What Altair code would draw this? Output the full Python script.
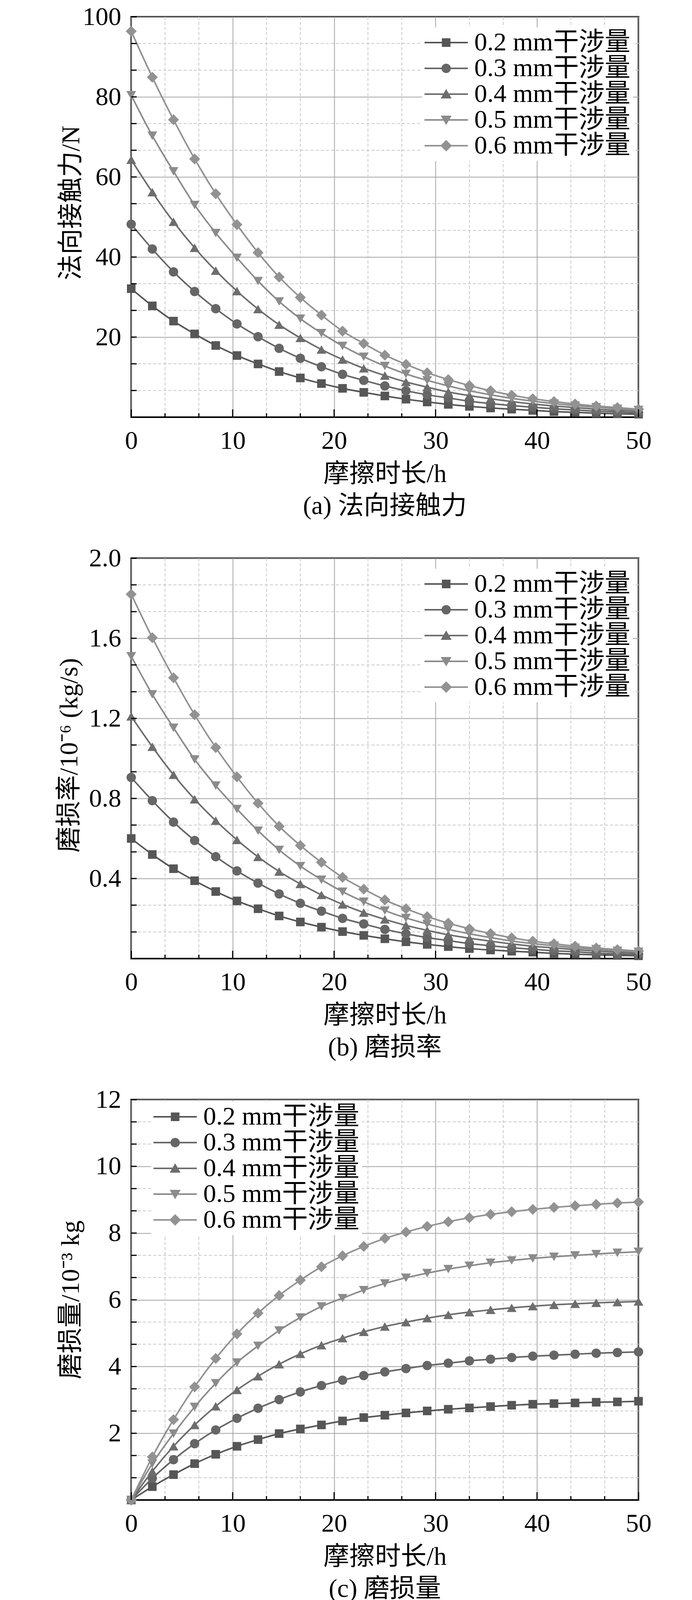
import altair as alt
import pandas as pd

# ---------------- data ----------------
T_H = [0, 2.08, 4.17, 6.25, 8.33, 10.42, 12.5, 14.58, 16.67, 18.75, 20.83, 22.92, 25,
       27.08, 29.17, 31.25, 33.33, 35.42, 37.5, 39.58, 41.67, 43.75, 45.83, 47.92, 50]

SERIES = ["0.2 mm干涉量", "0.3 mm干涉量", "0.4 mm干涉量", "0.5 mm干涉量", "0.6 mm干涉量"]

# (a) normal contact force / N
A02 = [32.1, 27.8, 24.0, 20.8, 17.9, 15.4, 13.3, 11.4, 9.8, 8.4, 7.2, 6.2, 5.3, 4.5, 3.8, 3.2, 2.7, 2.3, 2.0, 1.7, 1.4, 1.2, 1.0, 0.85, 0.75]
A03 = [48.2, 42.0, 36.3, 31.4, 27.1, 23.3, 20.1, 17.2, 14.7, 12.6, 10.7, 9.2, 7.8, 6.6, 5.6, 4.8, 4.0, 3.4, 2.9, 2.5, 2.1, 1.8, 1.5, 1.3, 1.1]
A04 = [64.3, 56.2, 48.8, 42.3, 36.6, 31.5, 27.0, 23.1, 19.8, 16.9, 14.4, 12.2, 10.4, 8.8, 7.5, 6.3, 5.4, 4.6, 3.9, 3.3, 2.8, 2.4, 2.0, 1.7, 1.5]
A05 = [80.4, 70.3, 61.4, 53.0, 46.0, 39.8, 34.0, 28.9, 24.6, 21.0, 17.8, 15.1, 12.8, 10.8, 9.2, 7.8, 6.6, 5.6, 4.7, 4.0, 3.4, 2.9, 2.5, 2.1, 1.8]
A06 = [96.4, 84.9, 74.3, 64.5, 55.8, 48.1, 41.1, 35.0, 29.9, 25.5, 21.5, 18.4, 15.5, 13.2, 11.1, 9.4, 7.9, 6.6, 5.5, 4.6, 3.9, 3.3, 2.8, 2.4, 2.0]

# (b) wear rate / 1e-6 kg/s
B02 = [0.600, 0.520, 0.449, 0.389, 0.335, 0.288, 0.249, 0.213, 0.183, 0.157, 0.135, 0.116, 0.099, 0.084, 0.071, 0.060, 0.050, 0.043, 0.037, 0.032, 0.026, 0.022, 0.019, 0.016, 0.014]
B03 = [0.905, 0.789, 0.682, 0.590, 0.509, 0.438, 0.377, 0.323, 0.276, 0.237, 0.201, 0.173, 0.146, 0.124, 0.105, 0.090, 0.075, 0.064, 0.054, 0.047, 0.039, 0.034, 0.028, 0.024, 0.021]
B04 = [1.210, 1.058, 0.918, 0.796, 0.689, 0.593, 0.508, 0.435, 0.373, 0.318, 0.271, 0.230, 0.196, 0.166, 0.141, 0.119, 0.102, 0.087, 0.073, 0.062, 0.053, 0.045, 0.038, 0.032, 0.028]
B05 = [1.510, 1.320, 1.153, 0.995, 0.864, 0.747, 0.639, 0.543, 0.462, 0.394, 0.334, 0.284, 0.240, 0.203, 0.173, 0.146, 0.124, 0.105, 0.088, 0.075, 0.064, 0.054, 0.047, 0.039, 0.034]
B06 = [1.820, 1.603, 1.403, 1.218, 1.054, 0.908, 0.776, 0.661, 0.565, 0.481, 0.406, 0.347, 0.293, 0.249, 0.210, 0.177, 0.149, 0.125, 0.104, 0.087, 0.074, 0.062, 0.053, 0.045, 0.038]

# (c) wear amount / 1e-3 kg
C02 = [0, 0.40, 0.76, 1.09, 1.37, 1.61, 1.81, 1.99, 2.13, 2.25, 2.37, 2.47, 2.54, 2.61, 2.67, 2.72, 2.76, 2.80, 2.84, 2.87, 2.89, 2.91, 2.93, 2.94, 2.96]
C03 = [0, 0.65, 1.21, 1.69, 2.10, 2.45, 2.75, 3.01, 3.24, 3.43, 3.59, 3.73, 3.84, 3.94, 4.03, 4.10, 4.17, 4.22, 4.27, 4.31, 4.34, 4.37, 4.40, 4.42, 4.44]
C04 = [0, 0.86, 1.61, 2.25, 2.81, 3.30, 3.71, 4.07, 4.38, 4.64, 4.85, 5.04, 5.20, 5.33, 5.45, 5.55, 5.63, 5.70, 5.76, 5.81, 5.85, 5.88, 5.91, 5.93, 5.95]
C05 = [0, 1.09, 1.99, 2.79, 3.50, 4.12, 4.62, 5.08, 5.47, 5.80, 6.05, 6.29, 6.49, 6.66, 6.80, 6.92, 7.02, 7.11, 7.18, 7.24, 7.29, 7.33, 7.37, 7.41, 7.44]
C06 = [0, 1.29, 2.41, 3.39, 4.24, 4.98, 5.60, 6.13, 6.59, 6.99, 7.32, 7.60, 7.84, 8.03, 8.20, 8.34, 8.46, 8.56, 8.64, 8.71, 8.77, 8.82, 8.86, 8.90, 8.93]

# axis tick values
X_MAJOR = [0, 10, 20, 30, 40, 50]
X_MINOR = [3.333, 6.667, 13.333, 16.667, 23.333, 26.667, 33.333, 36.667, 43.333, 46.667]
YA_MAJOR = [20, 40, 60, 80, 100]
YA_MINOR = [6.667, 13.333, 26.667, 33.333, 46.667, 53.333, 66.667, 73.333, 86.667, 93.333]
YB_MAJOR = [0.4, 0.8, 1.2, 1.6, 2.0]
YB_MINOR = [0.133, 0.267, 0.533, 0.667, 0.933, 1.067, 1.333, 1.467, 1.733, 1.867]
YC_MAJOR = [2, 4, 6, 8, 10, 12]
YC_MINOR = [0.667, 1.333, 2.667, 3.333, 4.667, 5.333, 6.667, 7.333, 8.667, 9.333, 10.667, 11.333]

# ---------------- styles ----------------
FONT = "Liberation Serif, Noto Sans CJK SC"
NUM_FONT = "Liberation Serif"
FS = 66
W, H = 1299, 1025
COLORS = ["#565656", "#666666", "#6d6d6d", "#8b8b8b", "#929292"]
SHAPES = ["square", "circle", "triangle-up", "triangle-down", "diamond"]
SIZES = [484, 576, 625, 625, 784]
# legend glyph: a line segment with the marker in its middle (unit = 11 px)
LINE = "M-3,0H7.09"
LEGEND_PATHS = [
    LINE + "M1.225,-0.82H2.865V0.82H1.225Z",
    LINE + "M2.955,0A0.91,0.91 0 1,1 1.135,0A0.91,0.91 0 1,1 2.955,0Z",
    LINE + "M2.045,-0.82L2.995,0.82H1.095Z",
    LINE + "M2.045,0.82L2.995,-0.82H1.095Z",
    LINE + "M2.045,-1.09L3.135,0L2.045,1.09L0.955,0Z",
]


def panel(series_vals, y_dom, y_major, y_minor, y_fmt, y_title, title_x, title_y,
          caption, leg_x, leg_y):
    rows = []
    for name, vals in zip(SERIES, series_vals):
        for t, v in zip(T_H, vals):
            rows.append({"t": t, "val": v, "series": name})
    df = pd.DataFrame(rows)

    xs = alt.Scale(domain=[0, 50], nice=False, zero=False)
    ys = alt.Scale(domain=y_dom, nice=False, zero=False)
    xaxis = alt.Axis(values=X_MAJOR, format="d", grid=True, gridColor="#a3a3a3", gridWidth=2,
                     ticks=False, tickSize=0, domain=False, labelFont=NUM_FONT, labelFontSize=FS,
                     labelColor="black", labelPadding=28, labelOverlap=False, labelFlush=False,
                     title="摩擦时长/h", titleFont=FONT, titleFontSize=FS, titleFontWeight="normal",
                     titleColor="black", titlePadding=20)
    yaxis = alt.Axis(values=y_major, format=y_fmt, grid=True, gridColor="#a3a3a3", gridWidth=2,
                     ticks=False, tickSize=0, domain=False, labelFont=NUM_FONT, labelFontSize=FS,
                     labelColor="black", labelPadding=26, labelOverlap=False, labelFlush=False,
                     title=y_title, titleFont=FONT, titleFontSize=FS, titleFontWeight="normal",
                     titleColor="black", titleAngle=270, titleAlign="center",
                     titleBaseline="alphabetic", titleX=title_x, titleY=title_y)

    def X(f="t"):
        return alt.X(f"{f}:Q", scale=xs, axis=xaxis)

    def Y(f="val"):
        return alt.Y(f"{f}:Q", scale=ys, axis=yaxis)

    layers = []
    # minor (dashed) grid
    layers.append(alt.Chart(pd.DataFrame({"t": X_MINOR})).mark_rule(
        color="#c9c9c9", strokeWidth=2, strokeDash=[8, 5]).encode(x=X()))
    layers.append(alt.Chart(pd.DataFrame({"val": y_minor})).mark_rule(
        color="#c9c9c9", strokeWidth=2, strokeDash=[8, 5]).encode(y=Y()))

    for i, name in enumerate(SERIES):
        sub = df[df["series"] == name]
        layers.append(alt.Chart(sub).mark_line(
            color=COLORS[i], strokeWidth=4, interpolate="monotone").encode(x=X(), y=Y()))
        layers.append(alt.Chart(sub).mark_point(
            shape=SHAPES[i], filled=True, size=SIZES[i], color=COLORS[i], opacity=1,
            strokeWidth=0).encode(x=X(), y=Y()))

    # inward ticks
    layers.append(alt.Chart(pd.DataFrame({"t": X_MAJOR})).mark_rule(
        color="black", strokeWidth=3).encode(x=X(), y=alt.value(H), y2=alt.value(H - 20)))
    layers.append(alt.Chart(pd.DataFrame({"t": X_MINOR})).mark_rule(
        color="black", strokeWidth=3).encode(x=X(), y=alt.value(H), y2=alt.value(H - 10)))
    layers.append(alt.Chart(pd.DataFrame({"val": y_major + y_minor})).mark_rule(
        color="black", strokeWidth=3).encode(y=Y(), x=alt.value(0), x2=alt.value(14)))

    legend = alt.Legend(title=None, orient="none", legendX=leg_x, legendY=leg_y,
                        fillColor="white", padding=6, labelFont=FONT, labelFontSize=FS,
                        labelColor="black", labelLimit=2000, labelOffset=61.5,
                        symbolSize=484, symbolStrokeWidth=4, rowPadding=0)
    layers.append(alt.Chart(df).transform_filter("datum.t < 0").mark_point(
        filled=True, size=484, opacity=1, strokeWidth=4).encode(
        x=X(), y=Y(),
        color=alt.Color("series:N", scale=alt.Scale(domain=SERIES, range=COLORS), legend=legend),
        shape=alt.Shape("series:N", scale=alt.Scale(domain=SERIES, range=LEGEND_PATHS), legend=legend),
        stroke=alt.Stroke("series:N", scale=alt.Scale(domain=SERIES, range=COLORS), legend=legend),
    ))

    return alt.layer(*layers).properties(
        width=W, height=H,
        title=alt.TitleParams(text=caption, orient="bottom", anchor="middle", font=FONT,
                              fontSize=FS, fontWeight="normal", color="black", offset=18),
    )


pa = panel([A02, A03, A04, A05, A06], [0, 100], YA_MAJOR, YA_MINOR, "d", "法向接触力/N",
           -134, 476, "(a) 法向接触力", 745, 27)
pb = panel([B02, B03, B04, B05, B06], [0, 2.0], YB_MAJOR, YB_MINOR, ".1f",
           "磨损率/10⁻⁶ (kg/s)", -139, 504, "(b) 磨损率", 745, 27)
pc = panel([C02, C03, C04, C05, C06], [0, 12], YC_MAJOR, YC_MINOR, "d", "磨损量/10⁻³ kg",
           -135, 512, "(c) 磨损量", 51, 5)

chart = alt.vconcat(pa, pb, pc, spacing=361, bounds="flush").resolve_scale(
    color="independent", shape="independent", stroke="independent",
    x="independent", y="independent",
).resolve_legend(
    color="independent", shape="independent", stroke="independent",
).configure_view(
    stroke="black", strokeWidth=4,
).properties(
    padding={"left": 134, "top": 0, "right": 10, "bottom": 0},
    background="white",
)

chart.save("out.html", embed_options={"renderer": "svg", "actions": False})
